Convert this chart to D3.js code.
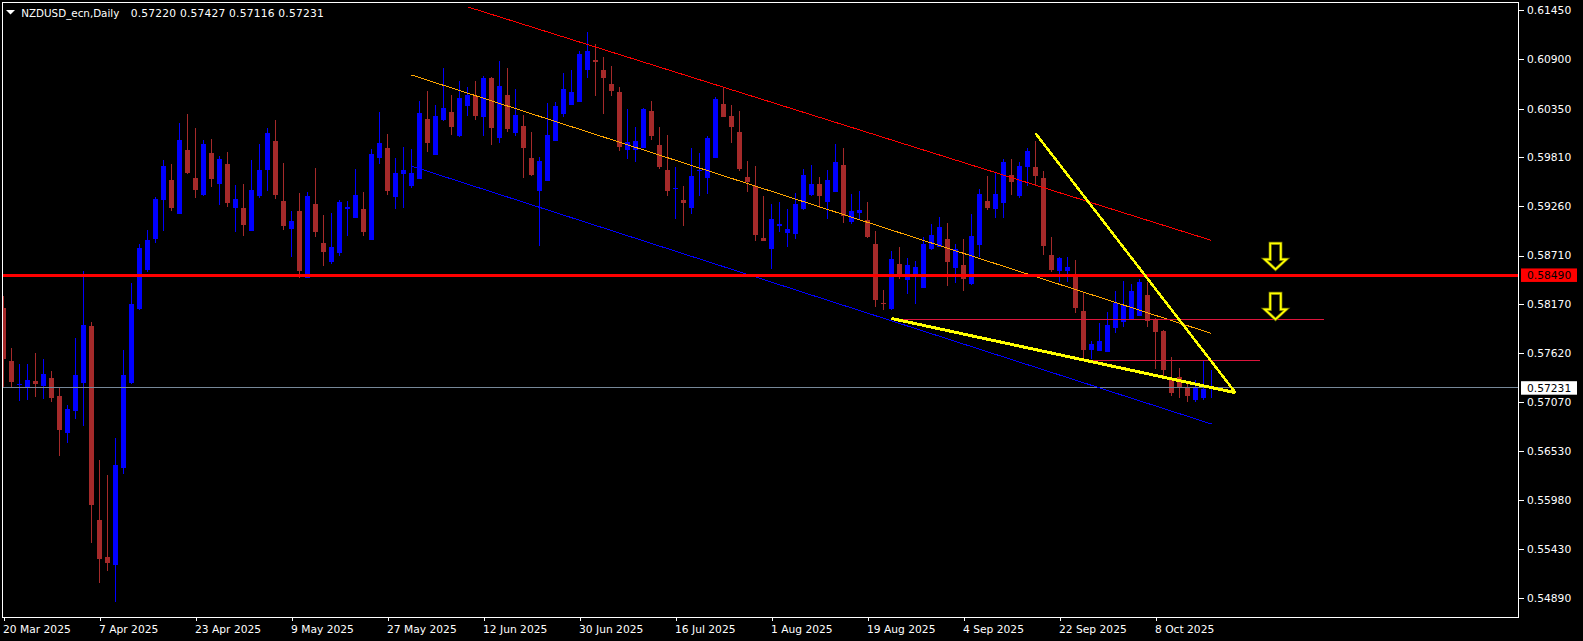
<!DOCTYPE html>
<html><head><meta charset="utf-8">
<script src="https://cdn.jsdelivr.net/npm/d3@7"></script>
<style>html,body{margin:0;padding:0;background:#000;overflow:hidden}</style>
</head><body><svg id="c" width="1583" height="641"></svg>
<script>
// ---- data (daily bars, 20 Mar 2025 .. 17 Oct 2025) ----
const opens = [0.58121,0.57532,0.57268,0.57242,0.57309,0.57256,0.57342,0.57141,0.56728,0.56974,
0.57286,0.57923,0.55757,0.55344,0.55254,0.56337,0.57286,0.58113,0.58548,0.58894,
0.59330,0.59553,0.59177,0.59888,0.59576,0.59386,0.59855,0.59512,0.59732,0.59244,
0.59241,0.58987,0.59378,0.59668,0.59989,0.59319,0.59009,0.59207,0.58462,0.59285,
0.58850,0.58641,0.58738,0.59233,0.59132,0.59229,0.58887,0.59802,0.59910,0.59367,
0.59624,0.59490,0.59568,0.60234,0.59836,0.60226,0.60312,0.60048,0.60383,0.60491,
0.60260,0.60692,0.60025,0.60502,0.60081,0.60156,0.59799,0.59434,0.59545,0.59992,
0.60293,0.60394,0.60427,0.60785,0.60893,0.60781,0.60625,0.60536,0.59891,0.59891,
0.59914,0.60324,0.59944,0.59665,0.59455,0.59330,0.59244,0.59660,0.59579,0.59802,
0.60402,0.60268,0.60089,0.59587,0.59490,0.58909,0.58786,0.59043,0.58965,0.58954,
0.59226,0.59386,0.59509,0.59311,0.59423,0.59721,0.59088,0.59185,0.59110,0.58839,
0.58180,0.58113,0.58615,0.58440,0.58507,0.58351,0.58783,0.58808,0.58894,0.58574,
0.58604,0.58395,0.58831,0.59319,0.59233,0.59300,0.59609,0.59378,0.59702,0.59698,
0.59576,0.58716,0.58540,0.58540,0.58473,0.58090,0.57658,0.57647,0.57636,0.57904,
0.57971,0.58004,0.58038,0.58269,0.58004,0.57867,0.57323,0.57353,0.57227,0.57097,
0.57119,0.57220];
const highs = [0.58258,0.57677,0.57499,0.57499,0.57621,0.57554,0.57420,0.57231,0.57041,0.57789,
0.58537,0.57968,0.56427,0.56259,0.56672,0.57655,0.58403,0.58839,0.58995,0.59363,
0.59776,0.59732,0.60190,0.60290,0.60134,0.59999,0.60011,0.59821,0.59866,0.59497,
0.59509,0.59776,0.59955,0.60134,0.60223,0.59743,0.59207,0.59408,0.59419,0.59687,
0.59162,0.59185,0.59330,0.59319,0.59676,0.59419,0.59899,0.60312,0.60067,0.59799,
0.59922,0.59899,0.60435,0.60547,0.60391,0.60804,0.60502,0.60659,0.60592,0.60659,
0.60714,0.60700,0.60882,0.60804,0.60569,0.60279,0.60089,0.59810,0.60413,0.60424,
0.60748,0.60781,0.60994,0.61206,0.61072,0.60927,0.60826,0.60592,0.60349,0.60145,
0.60357,0.60435,0.60145,0.60056,0.59702,0.59490,0.59910,0.59855,0.60044,0.60480,
0.60592,0.60391,0.60324,0.59769,0.59709,0.59378,0.59285,0.59311,0.59233,0.59411,
0.59676,0.59721,0.59587,0.59665,0.59955,0.59910,0.59397,0.59430,0.59308,0.58987,
0.58325,0.58760,0.58805,0.58682,0.58649,0.58920,0.59065,0.59140,0.59073,0.58839,
0.58894,0.59174,0.59453,0.59598,0.59635,0.59788,0.59788,0.59754,0.59910,0.59989,
0.59654,0.58920,0.58697,0.58697,0.58660,0.58306,0.57759,0.57960,0.58083,0.58314,
0.58425,0.58392,0.58448,0.58418,0.58016,0.57882,0.57580,0.57454,0.57279,0.57320,
0.57543,0.57427];
const lows = [0.57227,0.57231,0.57089,0.57097,0.57130,0.57108,0.57074,0.56471,0.56617,0.56884,
0.56806,0.55500,0.55053,0.55187,0.54841,0.56270,0.57275,0.58102,0.58526,0.58850,
0.58984,0.59210,0.59174,0.59620,0.59356,0.59380,0.59478,0.59277,0.59255,0.58976,
0.58931,0.58980,0.59356,0.59434,0.59344,0.58998,0.58697,0.58462,0.58455,0.58920,
0.58596,0.58619,0.58708,0.58931,0.59125,0.58931,0.58880,0.59735,0.59389,0.59233,
0.59244,0.59467,0.59560,0.59869,0.59830,0.60215,0.60059,0.60037,0.60271,0.60226,
0.60048,0.59947,0.59970,0.60092,0.60048,0.59579,0.59601,0.58820,0.59538,0.59985,
0.60260,0.60388,0.60420,0.60695,0.60494,0.60293,0.60494,0.59880,0.59791,0.59758,
0.59907,0.60003,0.59679,0.59378,0.59121,0.59043,0.59177,0.59378,0.59400,0.59795,
0.60253,0.59970,0.59657,0.59423,0.58875,0.58868,0.58563,0.58976,0.58808,0.58898,
0.59220,0.59380,0.59244,0.59121,0.59416,0.59076,0.59065,0.59121,0.58909,0.58138,
0.58102,0.58106,0.58451,0.58284,0.58172,0.58344,0.58776,0.58801,0.58373,0.58406,
0.58317,0.58384,0.58697,0.59221,0.59132,0.59132,0.59389,0.59356,0.59490,0.59490,
0.58719,0.58529,0.58411,0.58411,0.58071,0.57558,0.57558,0.57640,0.57630,0.57845,
0.57915,0.57997,0.58030,0.57915,0.57446,0.57368,0.57145,0.57122,0.57074,0.57074,
0.57097,0.57116];
const closes = [0.57554,0.57298,0.57272,0.57320,0.57275,0.57387,0.57119,0.56762,0.56996,0.57376,
0.57934,0.55924,0.55321,0.55277,0.56371,0.57376,0.58169,0.58794,0.58883,0.59341,
0.59709,0.59241,0.59999,0.59631,0.59445,0.59955,0.59568,0.59788,0.59300,0.59341,
0.59054,0.59442,0.59665,0.60078,0.59389,0.59043,0.59095,0.58537,0.59375,0.58976,
0.58753,0.58805,0.59308,0.59252,0.59386,0.58976,0.59843,0.59966,0.59434,0.59631,
0.59665,0.59631,0.60301,0.59970,0.60268,0.60357,0.60148,0.60469,0.60502,0.60271,
0.60692,0.60137,0.60603,0.60126,0.60279,0.59914,0.59609,0.59765,0.60056,0.60379,
0.60569,0.60536,0.60963,0.60994,0.60874,0.60695,0.60550,0.59925,0.59981,0.59989,
0.60346,0.60048,0.59702,0.59434,0.59460,0.59300,0.59598,0.59665,0.60022,0.60458,
0.60260,0.60148,0.59679,0.59534,0.58942,0.58875,0.59118,0.59065,0.59006,0.59285,
0.59609,0.59509,0.59378,0.59553,0.59754,0.59154,0.59207,0.59221,0.58917,0.58216,
0.58176,0.58671,0.58507,0.58604,0.58582,0.58842,0.58939,0.59028,0.58641,0.58783,
0.58451,0.58928,0.59397,0.59244,0.59397,0.59754,0.59534,0.59709,0.59877,0.59601,
0.58820,0.58552,0.58686,0.58585,0.58127,0.57658,0.57725,0.57759,0.57934,0.58180,
0.58161,0.58314,0.58414,0.57982,0.57859,0.57435,0.57178,0.57242,0.57145,0.57231,
0.57220,0.57231];

const dateLabels = ["20 Mar 2025","7 Apr 2025","23 Apr 2025","9 May 2025","27 May 2025","12 Jun 2025",
"30 Jun 2025","16 Jul 2025","1 Aug 2025","19 Aug 2025","4 Sep 2025","22 Sep 2025","8 Oct 2025"];
const dateTickBars = [0,12,24,36,48,60,72,84,96,108,120,132,144];
const priceTicks = [0.61450,0.60900,0.60350,0.59810,0.59260,0.58710,0.58170,0.57620,0.57070,0.56530,0.55980,0.55430,0.54890];

// drawn objects: [bar index, price]
const redChannel = [[58,0.61487],[151,0.58879]];
const midChannel = [[51,0.60726],[151,0.57840]];
const lowChannel = [[51,0.59709],[151,0.56829]];
const yellowUpper = [[129,0.60075],[154,0.57178]];
const yellowLower = [[111,0.58007],[154,0.57178]];
const levelMain = 0.58490;
const level1 = [[111,0.57998],[165,0.57998]];
const level2 = [[135,0.57543],[157,0.57543]];
const bidPrice = 0.57231;
const arrowBar = 159;
const arrowTips = [0.58556,0.57998];
const symbolTitle = "NZDUSD_ecn,Daily";
const titleOHLC = "0.57220 0.57427 0.57116 0.57231";

// ---- chart ----
const W = 1583, H = 641, L = 2, R = 1519, T = 2, B = 617;
const svg = d3.select("#c");
svg.append("rect").attr("width",W).attr("height",H).attr("fill","#000");
const x = d3.scaleLinear().domain([0,151]).range([3.5,1211.5]);
const y = d3.scaleLinear().domain([0.54674,0.61541]).range([B,T]);
const font = "'DejaVu Sans', sans-serif";

svg.append("defs").append("clipPath").attr("id","pc")
  .append("rect").attr("x",L).attr("y",T).attr("width",R-L).attr("height",B-T);
const plot = svg.append("g").attr("clip-path","url(#pc)");

const bars = d3.range(opens.length).map(i=>({i,o:opens[i],h:highs[i],l:lows[i],c:closes[i]}));
const BULL="#0000ff", BEAR="#a52a2a";
const g = plot.append("g").attr("shape-rendering","crispEdges");
g.selectAll("line.w").data(bars).join("line")
  .attr("x1",d=>x(d.i)).attr("x2",d=>x(d.i))
  .attr("y1",d=>y(d.h)).attr("y2",d=>y(d.l))
  .attr("stroke",d=>d.c>=d.o?BULL:BEAR).attr("stroke-width",1);
g.selectAll("rect.b").data(bars).join("rect")
  .attr("x",d=>x(d.i)-2.5).attr("width",5)
  .attr("y",d=>y(Math.max(d.o,d.c)))
  .attr("height",d=>Math.max(1,y(Math.min(d.o,d.c))-y(Math.max(d.o,d.c))))
  .attr("fill",d=>d.c>=d.o?BULL:BEAR);

const line = d3.line().x(d=>x(d[0])).y(d=>y(d[1]));
const lines = plot.append("g").attr("fill","none").attr("shape-rendering","crispEdges");
lines.append("line").attr("x1",L).attr("x2",R).attr("y1",y(bidPrice)).attr("y2",y(bidPrice))
  .attr("stroke","#778899").attr("stroke-width",1);
lines.append("path").attr("d",line(redChannel)).attr("stroke","#ff0000").attr("stroke-width",1);
lines.append("path").attr("d",line(midChannel)).attr("stroke","#ffa500").attr("stroke-width",1);
lines.append("path").attr("d",line(lowChannel)).attr("stroke","#0000ff").attr("stroke-width",1);
lines.append("path").attr("d",line(level1)).attr("stroke","#dc143c").attr("stroke-width",1);
lines.append("path").attr("d",line(level2)).attr("stroke","#dc143c").attr("stroke-width",1);
lines.append("line").attr("x1",L).attr("x2",R).attr("y1",y(levelMain)).attr("y2",y(levelMain))
  .attr("stroke","#ff0000").attr("stroke-width",3);
lines.append("path").attr("d",line(yellowUpper)).attr("stroke","#ffff00").attr("stroke-width",2.5);
lines.append("path").attr("d",line(yellowLower)).attr("stroke","#ffff00").attr("stroke-width",3);

// arrows
arrowTips.forEach(p=>{
  const tx = x(arrowBar), ty = y(p);
  const pts = [[tx-5.3,ty-26],[tx+5.3,ty-26],[tx+5.3,ty-10],[tx+10.8,ty-10],[tx,ty],[tx-10.8,ty-10],[tx-5.3,ty-10]];
  plot.append("path").attr("d","M"+pts.map(q=>q.join(",")).join("L")+"Z")
    .attr("fill","none").attr("stroke","#6b6b00").attr("stroke-width",3.2);
  plot.append("path").attr("d","M"+pts.map(q=>q.join(",")).join("L")+"Z")
    .attr("fill","none").attr("stroke","#ffff00").attr("stroke-width",1.8);
});

// frame
svg.append("rect").attr("x",L+0.5).attr("y",T+0.5).attr("width",R-L-1).attr("height",B-T)
  .attr("fill","none").attr("stroke","#fff").attr("stroke-width",1).attr("shape-rendering","crispEdges");

// price axis
const ya = svg.append("g").attr("transform",`translate(${R},0)`)
  .call(d3.axisRight(y).tickValues(priceTicks).tickSize(5).tickPadding(3).tickFormat(d3.format(".5f")));
ya.select(".domain").remove();
ya.selectAll("line").attr("stroke","#fff").attr("shape-rendering","crispEdges");
ya.selectAll("text").attr("fill","#fff").attr("font-family",font).attr("font-size",10.7);

// date axis
const xa = svg.append("g").attr("transform",`translate(0,${B})`)
  .call(d3.axisBottom(x).tickValues(dateTickBars).tickSize(4).tickPadding(4.4).tickFormat((d,i)=>dateLabels[i]));
xa.select(".domain").remove();
xa.selectAll("line").attr("stroke","#fff").attr("shape-rendering","crispEdges");
xa.selectAll("text").attr("fill","#fff").attr("font-family",font).attr("font-size",10.7)
  .attr("text-anchor","start").attr("x",-1);

// axis price boxes
function priceBox(p, bg){
  const cy = y(p);
  svg.append("rect").attr("x",1521).attr("y",cy-6.8).attr("width",56).attr("height",13.5).attr("fill",bg);
  svg.append("text").attr("x",1527).attr("y",cy).attr("dy","0.34em").attr("fill","#000")
    .attr("font-family",font).attr("font-size",10.7).text(d3.format(".5f")(p));
}
priceBox(levelMain,"#ff0000");
priceBox(bidPrice,"#ffffff");

// title
svg.append("path").attr("d","M6,10L15,10L10.5,14.5Z").attr("fill","#fff");
svg.append("text").attr("x",21.3).attr("y",16.7).attr("fill","#fff").attr("font-family",font)
  .attr("font-size",10.7).attr("textLength",98).attr("lengthAdjust","spacingAndGlyphs").text(symbolTitle);
svg.append("text").attr("x",130.7).attr("y",16.7).attr("fill","#fff").attr("font-family",font)
  .attr("font-size",10.7).attr("textLength",193).attr("lengthAdjust","spacing").text(titleOHLC);
</script>
</body></html>
